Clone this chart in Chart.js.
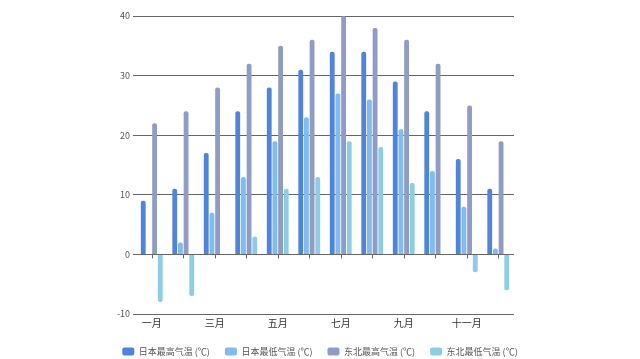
<!DOCTYPE html>
<html>
<head>
<meta charset="utf-8">
<script src="https://cdn.jsdelivr.net/npm/chart.js@4"></script>
<style>
  body { margin: 0; background: #fff; }
  #wrap { width: 640px; height: 359px; }
</style>
</head>
<body>
<div id="wrap"><canvas id="mychart"></canvas></div>
<script>
// months along x-axis
var months = ["一月", "二月", "三月", "四月", "五月", "六月", "七月", "八月", "九月", "十月", "十一月", "十二月"];

// temperatures
var jpHigh = [9, 11, 17, 24, 28, 31, 34, 34, 29, 24, 16, 11];
var jpLow = [0, 2, 7, 13, 19, 23, 27, 26, 21, 14, 8, 1];
var neHigh = [22, 24, 28, 32, 35, 36, 40, 38, 36, 32, 25, 19];
var neLow = [-8, -7, 0, 3, 11, 13, 19, 18, 12, 0, -3, -6];

// y ticks
var yMin = -10, yMax = 40, yStep = 10;

Chart.defaults.font.family = "'Noto Sans CJK SC', 'Noto Sans', sans-serif";

var ctx = document.getElementById("mychart");

function bar(label, data, color) {
    return {
        label: label,
        data: data,
        backgroundColor: color,
        borderRadius: 2,
        borderSkipped: 'start',
        categoryPercentage: 0.72,
        barPercentage: 0.85
    };
}

// little tick marks hanging under the zero line
var zeroTicks = {
    id: 'zeroTicks',
    afterDatasetsDraw: function (chart) {
        var x = chart.scales.x, y = chart.scales.y;
        var y0 = y.getPixelForValue(0);
        var c = chart.ctx;
        c.save();
        c.strokeStyle = '#666';
        c.lineWidth = 1;
        c.beginPath();
        for (var i = 0; i < months.length; i++) {
            var px = Math.round(x.getPixelForTick(i)) + 0.5;
            c.moveTo(px, y0);
            c.lineTo(px, y0 + 4);
        }
        c.stroke();
        c.restore();
    }
};

var mychart = new Chart(ctx, {
    type: 'bar',
    data: {
        labels: months,
        datasets: [
            bar("日本最高气温 (℃)", jpHigh, "#4f84de"),
            bar("日本最低气温 (℃)", jpLow, "#80bcf0"),
            bar("东北最高气温 (℃)", neHigh, "#8f9cc6"),
            bar("东北最低气温 (℃)", neLow, "#8ccde6")
        ]
    },
    plugins: [zeroTicks],
    options: {
        responsive: true,
        maintainAspectRatio: false,
        animation: false,
        layout: { padding: { left: 0, right: 0, top: 16, bottom: -7 } },
        plugins: {
            tooltip: { enabled: false },
            legend: {
                position: 'bottom',
                labels: {
                    boxWidth: 12,
                    boxHeight: 8,
                    useBorderRadius: true,
                    borderRadius: 2,
                    padding: 15,
                    color: '#555',
                    font: { size: 9 }
                }
            }
        },
        scales: {
            x: {
                grid: { display: false, drawTicks: false },
                border: { display: false },
                ticks: {
                    color: '#333',
                    font: { size: 10 },
                    maxRotation: 0,
                    autoSkip: false,
                    padding: 3,
                    callback: function (v, i) { return i % 2 === 0 ? months[i] : ''; }
                }
            },
            y: {
                min: yMin,
                max: yMax,
                ticks: { stepSize: yStep, color: '#555', font: { size: 9 }, padding: 3 },
                grid: { color: '#666', tickLength: 3 },
                border: { display: false },
                afterFit: function (s) { s.width = 136; }
            },
            yRight: {
                position: 'right',
                grid: { display: false },
                border: { display: false },
                ticks: { display: false },
                afterFit: function (s) { s.width = 126; }
            }
        }
    }
});
</script>
</body>
</html>
